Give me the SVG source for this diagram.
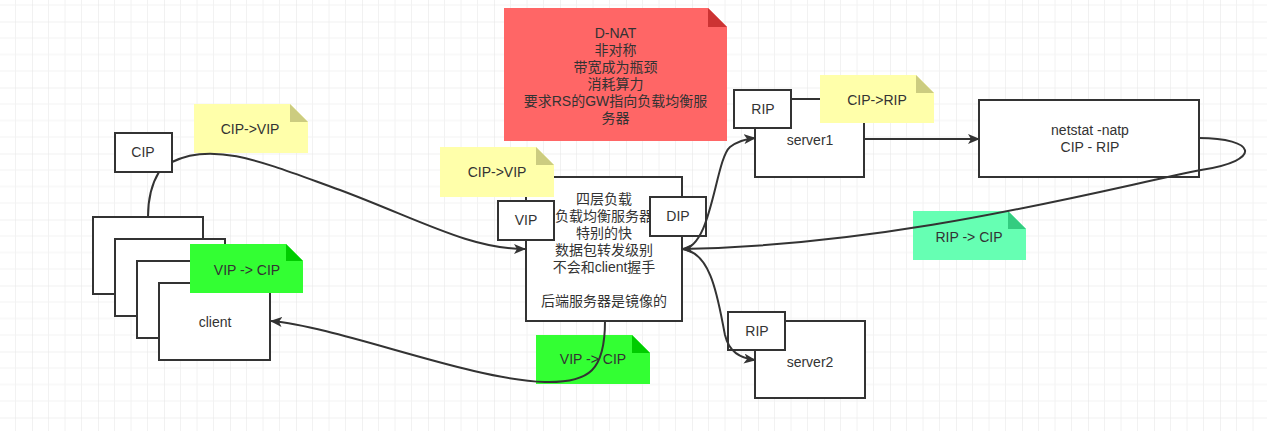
<svg xmlns="http://www.w3.org/2000/svg" width="1267" height="431" viewBox="0 0 1267 431">
<defs>
<pattern id="grid" x="32" y="21.5" width="66" height="66" patternUnits="userSpaceOnUse">
<path d="M16.5,0V66M33,0V66M49.5,0V66M0,16.5H66M0,33H66M0,49.5H66" stroke="#f2f2f2" stroke-width="1" fill="none"/>
<path d="M0,0V66M0,0H66" stroke="#e4e4e4" stroke-width="1" fill="none"/>
</pattern>
<marker id="arr" viewBox="0 0 12 10" refX="11" refY="5" markerWidth="12" markerHeight="10" markerUnits="userSpaceOnUse" orient="auto">
<path d="M0,0 L12,5 L0,10 L3,5 Z" fill="#333333"/>
</marker>
</defs>
<style>
.box{fill:#ffffff;stroke:#333333;stroke-width:2}
.t{font-family:"Liberation Sans","Noto Sans CJK SC",sans-serif;font-size:14px;fill:#333333;text-anchor:middle}
.edge{fill:none;stroke:#333333;stroke-width:2}
.yel{fill:#ffffaa}.yelf{fill:#cccc80}
.grn{fill:#33ff33}.grnf{fill:#00cc00}
.mint{fill:#66ffb3}.mintf{fill:#33cc80}
.red{fill:#ff6666}.redf{fill:#cc3333}
</style>
<rect width="1267" height="431" fill="#ffffff"/>
<rect width="1267" height="431" fill="url(#grid)"/>

<g id="client-stack">
<rect class="box" x="93" y="217" width="110" height="77"/>
<rect class="box" x="115" y="239" width="110" height="77"/>
<rect class="box" x="137" y="261" width="110" height="77"/>
<rect class="box" x="159" y="283" width="111" height="77"/>
<text class="t" x="215" y="327">client</text>
</g>
<g id="cip-box">
<rect class="box" x="115" y="133" width="57" height="39"/>
<text class="t" x="143" y="157">CIP</text>
</g>
<g id="note-cip-vip-1">
<path class="yel" d="M194,104H290L308,122V153H194Z"/>
<path class="yelf" d="M290,104V122H308Z"/>
<text class="t" x="250" y="134">CIP-&gt;VIP</text>
</g>
<g id="note-vip-cip-1">
<path class="grn" d="M190,244H286L303,261V293H190Z"/>
<path class="grnf" d="M286,244V261H303Z"/>
<text class="t" x="247" y="275">VIP -&gt; CIP</text>
</g>

<g id="lb">
<rect class="box" x="526" y="177" width="156" height="144"/>
<text class="t" x="604" y="204">四层负载</text>
<text class="t" x="604" y="221">负载均衡服务器</text>
<text class="t" x="604" y="238">特别的快</text>
<text class="t" x="604" y="255">数据包转发级别</text>
<text class="t" x="604" y="272">不会和client握手</text>
<text class="t" x="604" y="306">后端服务器是镜像的</text>
</g>
<g id="note-cip-vip-2">
<path class="yel" d="M440,147H536L554,165V197H440Z"/>
<path class="yelf" d="M536,147V165H554Z"/>
<text class="t" x="497" y="177">CIP-&gt;VIP</text>
</g>
<g id="vip-box">
<rect class="box" x="498" y="201" width="56" height="39"/>
<text class="t" x="526" y="225">VIP</text>
</g>
<g id="dip-box">
<rect class="box" x="650" y="197" width="56" height="39"/>
<text class="t" x="678" y="221">DIP</text>
</g>

<g id="note-dnat">
<path class="red" d="M504,8H708L727,27V141H504Z"/>
<path class="redf" d="M708,8V27H727Z"/>
<text class="t" x="615.5" y="38">D-NAT</text>
<text class="t" x="615.5" y="55">非对称</text>
<text class="t" x="615.5" y="72">带宽成为瓶颈</text>
<text class="t" x="615.5" y="89">消耗算力</text>
<text class="t" x="615.5" y="106">要求RS的GW指向负载均衡服</text>
<text class="t" x="615.5" y="123">务器</text>
</g>

<g id="server1">
<rect class="box" x="755" y="99" width="109" height="78"/>
<text class="t" x="810" y="145">server1</text>
</g>
<g id="rip-box-1">
<rect class="box" x="734" y="90" width="57" height="38"/>
<text class="t" x="763" y="114">RIP</text>
</g>
<g id="note-cip-rip">
<path class="yel" d="M820,75H916L934,93V123H820Z"/>
<path class="yelf" d="M916,75V93H934Z"/>
<text class="t" x="877" y="105">CIP-&gt;RIP</text>
</g>

<g id="netstat">
<rect class="box" x="979" y="100" width="220" height="77"/>
<text class="t" x="1090" y="135">netstat -natp</text>
<text class="t" x="1090" y="152">CIP - RIP</text>
</g>
<g id="note-rip-cip">
<path class="mint" d="M913,211H1008L1026,229V260H913Z"/>
<path class="mintf" d="M1008,211V229H1026Z"/>
<text class="t" x="969" y="242">RIP -&gt; CIP</text>
</g>

<g id="server2">
<rect class="box" x="755" y="321" width="110" height="77"/>
<text class="t" x="810" y="367">server2</text>
</g>
<g id="rip-box-2">
<rect class="box" x="728" y="312" width="57" height="38"/>
<text class="t" x="757" y="336">RIP</text>
</g>

<g id="note-vip-cip-2">
<path class="grn" d="M536,335H632L650,353V384H536Z"/>
<path class="grnf" d="M632,335V353H650Z"/>
<text class="t" x="593" y="364">VIP -&gt; CIP</text>
</g>

<g id="connectors">
<path class="edge" d="M159,172 C151,185 148,200 148,217"/>
<path class="edge" marker-end="url(#arr)" d="M172,162 C215,140 270,165 340,190 C420,220 470,249 525,249"/>
<path class="edge" marker-end="url(#arr)" d="M682,249 C712,249 715,160 730,147 C738,141 745,139 755,138"/>
<path class="edge" marker-end="url(#arr)" d="M682,249 C712,252 718,300 725,335 C729,352 740,358 755,360"/>
<path class="edge" marker-end="url(#arr)" d="M864,139 H979"/>
<path class="edge" marker-end="url(#arr)" d="M1199,138 C1255,138 1265,160 1201,170 C1100,190 900,245 682,249"/>
<path class="edge" marker-end="url(#arr)" d="M605,321 C605,370 590,383 545,382 C470,380 340,327 271,321"/>
</g>
</svg>
